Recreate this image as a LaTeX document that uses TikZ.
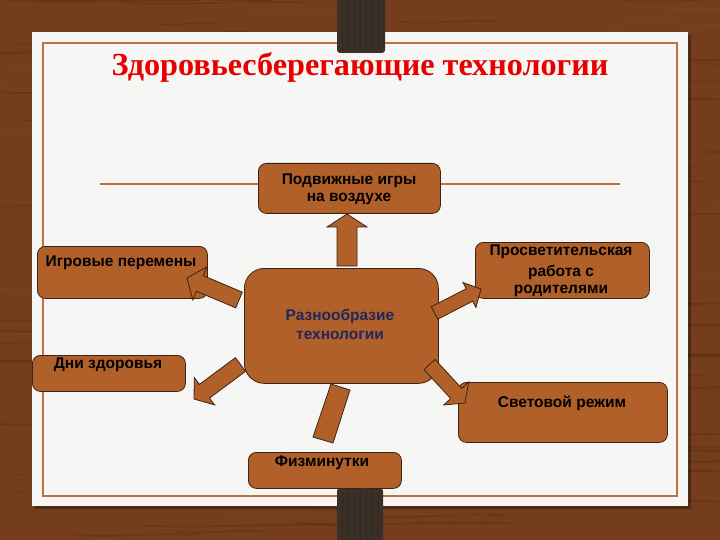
\documentclass[tikz,border=0pt]{standalone}
\usepackage{fontspec}
\setmainfont{Liberation Serif}
\setsansfont{Liberation Sans}
\usetikzlibrary{calc}
\definecolor{wood}{RGB}{116,62,28}
\definecolor{wooddark}{RGB}{70,34,12}
\definecolor{woodlight}{RGB}{146,84,40}
\definecolor{paper}{RGB}{246,246,244}
\definecolor{framec}{RGB}{192,112,62}
\definecolor{boxfill}{RGB}{178,96,42}
\definecolor{boxline}{RGB}{60,35,20}
\definecolor{strapc}{RGB}{58,48,40}
\definecolor{titlered}{RGB}{232,0,0}
\definecolor{navy}{RGB}{30,40,90}
\newcommand\barrow[5]{%
  \coordinate (bah) at ($(#2)!#5!(#1)$);
  \draw[arr] ($(#1)!#3!90:(#2)$) -- ($(bah)!#3!90:(#2)$) -- ($(bah)!#4!90:(#2)$) -- (#2)
    -- ($(bah)!#4!-90:(#2)$) -- ($(bah)!#3!-90:(#2)$) -- ($(#1)!#3!-90:(#2)$) -- cycle;}
\begin{document}
\begin{tikzpicture}[x=1pt,y=-1pt,
  box/.style={draw=boxline, fill=boxfill, line width=0.8pt, rounded corners=8pt},
  arr/.style={draw=boxline, fill=boxfill, line width=0.8pt, line join=miter},
  lbl/.style={font=\sffamily\bfseries\fontsize{15.5}{19}\selectfont, align=center, text=black, inner sep=0pt},
  strapst/.style={fill=strapc, rounded corners=3pt}]
\useasboundingbox (0,0) rectangle (720,540);
\clip (0,0) rectangle (720,540);
% wood background
\fill[wood] (0,0) rectangle (720,540);
\pgfmathsetseed{11}
\foreach \i in {1,...,110}{
  \pgfmathsetmacro\yy{rnd*540}
  \pgfmathsetmacro\xx{rnd*760-40}
  \pgfmathsetmacro\ll{60+rnd*220}
  \pgfmathsetmacro\ww{0.6+rnd*2.5}
  \draw[wooddark, opacity=0.22, line width=\ww pt] (\xx,\yy) .. controls +(\ll/3,3) and +(-\ll/3,-3) .. +(\ll,0);
}
\foreach \i in {1,...,40}{
  \pgfmathsetmacro\yy{rnd*540}
  \pgfmathsetmacro\xx{rnd*760-40}
  \pgfmathsetmacro\ll{40+rnd*160}
  \draw[woodlight, opacity=0.25, line width=1pt] (\xx,\yy) .. controls +(\ll/3,-2) and +(-\ll/3,2) .. +(\ll,0);
}
% paper
\fill[black, opacity=0.3] (35,35) rectangle (691,509);
\fill[paper] (32,32) rectangle (688,506);
\draw[framec, line width=2pt] (43,43) rectangle (677,496);
% straps
\fill[strapst] (337,-5) rectangle (385,53);
\fill[strapst] (337,488) rectangle (383,545);
\foreach \sx in {342,348,...,380}{
  \draw[black, opacity=0.15, line width=0.5pt] (\sx,0) -- (\sx,51);
  \draw[black, opacity=0.15, line width=0.5pt] (\sx,490) -- (\sx,540);
}
% title
\node[font=\bfseries\fontsize{32.2}{36}\selectfont, text=titlered, inner sep=0pt] (title) at (360,67) {Здоровьесберегающие технологии};
% horizontal rule
\draw[framec, line width=1.3pt] (100,184) -- (620,184);
% boxes
\node[box, anchor=north west, minimum width=182pt, minimum height=50pt, inner sep=0pt] (bTop) at (258,163) {};
\node[box, anchor=north west, minimum width=170pt, minimum height=52pt, inner sep=0pt] (bGames) at (37,246) {};
\node[box, anchor=north west, minimum width=174pt, minimum height=56pt, inner sep=0pt] (bParents) at (475,242) {};
\node[box, anchor=north west, minimum width=194pt, minimum height=115pt, inner sep=0pt, rounded corners=20pt] (bCenter) at (244,268) {};
\node[box, anchor=north west, minimum width=153pt, minimum height=36pt, inner sep=0pt] (bDays) at (32,355) {};
\node[box, anchor=north west, minimum width=209pt, minimum height=60pt, inner sep=0pt] (bLight) at (458,382) {};
\node[box, anchor=north west, minimum width=153pt, minimum height=36pt, inner sep=0pt] (bPhys) at (248,452) {};
% labels
\node[lbl] (tTop1) at (349,181) {Подвижные игры};
\node[lbl] (tTop2) at (349,199) {на воздухе};
\node[lbl] (tGames) at (121,263) {Игровые перемены};
\node[lbl] (tPar1) at (561,252) {Просветительская};
\node[lbl] (tPar2) at (561,272) {работа с};
\node[lbl] (tPar3) at (561,291) {родителями};
\node[lbl, text=navy] (tCen1) at (340,316) {Разнообразие};
\node[lbl, text=navy] (tCen2) at (340,335) {технологии};
\node[lbl] (tDays) at (108,365) {Дни здоровья};
\node[lbl] (tLight) at (562,403) {Световой режим};
\node[lbl] (tPhys) at (322,463) {Физминутки};
% arrow end points
\coordinate (aUpS) at (347,266);  \coordinate (aUpT) at (347,214);
\coordinate (aULS) at (239,300);  \coordinate (aULT) at (187,278);
\coordinate (aLLS) at (240.5,364.5); \coordinate (aLLT) at (194,399);
\coordinate (aURS) at (434.5,313); \coordinate (aURT) at (481,289);
\coordinate (aLRS) at (429.5,364.5); \coordinate (aLRT) at (465,403);
\barrow{aUpS}{aUpT}{10pt}{20pt}{13pt}
\barrow{aULS}{aULT}{8.5pt}{18pt}{14pt}
\barrow{aLLS}{aLLT}{8.5pt}{17pt}{13pt}
\barrow{aURS}{aURT}{7pt}{14pt}{13pt}
\barrow{aLRS}{aLRT}{7.5pt}{17pt}{13pt}
% bottom bar
\draw[arr] (331,384) -- (350,390) -- (333,443) -- (313,437) -- cycle;
\end{tikzpicture}
\end{document}
